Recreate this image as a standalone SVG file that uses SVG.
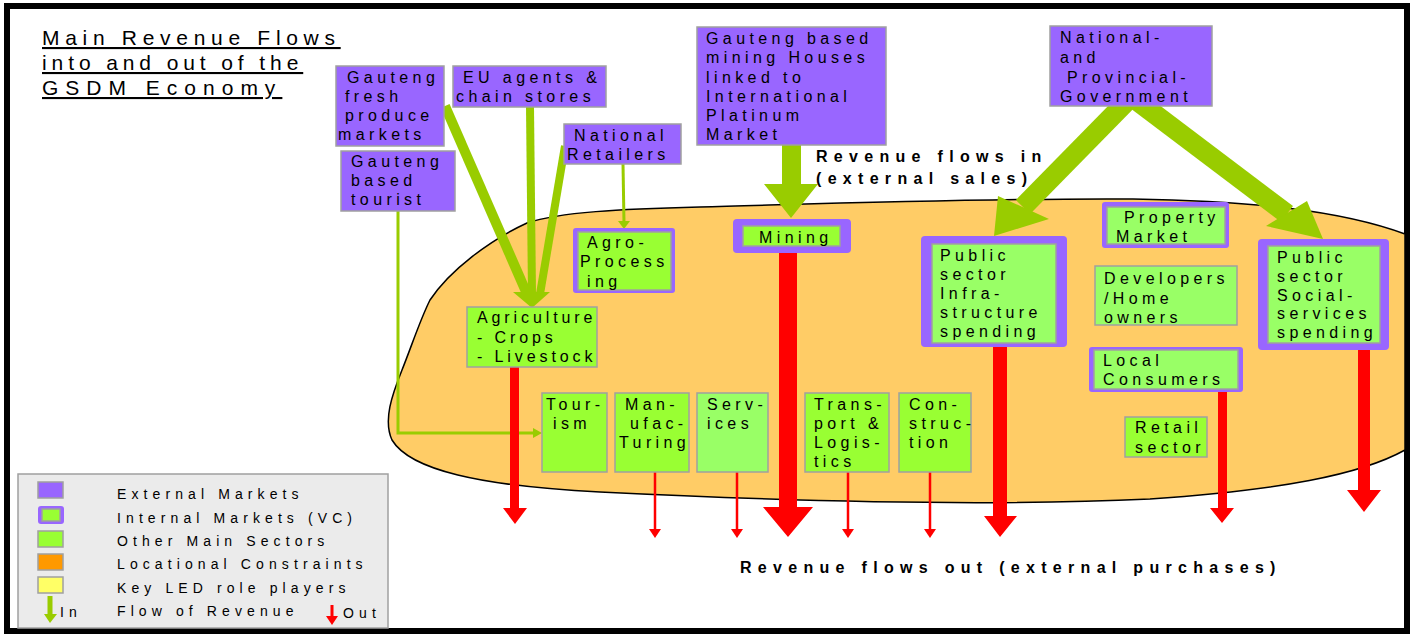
<svg xmlns="http://www.w3.org/2000/svg" width="1412" height="637" viewBox="0 0 1412 637">
<style>
text{font-family:"Liberation Sans",Arial,sans-serif;fill:#000}
.t{font-size:16px;letter-spacing:4.4px}
.lg{font-size:14px;letter-spacing:5.1px}
.b{font-size:16px;font-weight:bold;letter-spacing:6.3px}
.ti{font-size:21px;text-decoration:underline}
.ext{fill:#9966FF;stroke:#A0A0A0;stroke-width:1.5}
.g1{fill:#99FF33;stroke:#A0A0A0;stroke-width:1.5}
.g2{fill:#99FF66;stroke:#A0A0A0;stroke-width:1.5}
.intl{fill:#9966FF;stroke:none}
.red{fill:#FF0000}
.grn{fill:#99CC00}
.gl{stroke:#99CC00;fill:none}
.rl{stroke:#FF0000;stroke-width:2.5}
</style>
<rect x="0" y="0" width="1412" height="637" fill="#fff"/>
<rect x="7" y="6" width="1400" height="625" fill="#fff" stroke="#000" stroke-width="6"/>
<g id="title">
<text class="ti" x="42" y="45" style="letter-spacing:5.7px">Main Revenue Flows</text>
<text class="ti" x="42" y="70" style="letter-spacing:4.9px">into and out of the</text>
<text class="ti" x="42" y="95" style="letter-spacing:7px">GSDM Economy</text>
</g>
<path id="gsdm-area" d="M527,223 C560,212 620,209 700,207 C850,203 1000,198 1133,199 C1250,201 1340,210 1405,234 L1405,450 C1360,475 1280,490 1150,499 C1000,506 800,502 600,492 C480,486 410,470 392,440 C383,420 392,395 402,370 C412,345 420,320 430,300 C450,270 490,240 527,223 Z" fill="#FFCC66" stroke="#000" stroke-width="1.5"/>
<g id="connectors">
<line class="gl" x1="445" y1="106" x2="527" y2="294" stroke-width="10"/>
<line class="gl" x1="530" y1="107" x2="532" y2="294" stroke-width="8"/>
<line class="gl" x1="565" y1="146" x2="540" y2="294" stroke-width="8"/>
<polygon class="grn" points="513,292 550,292 532,308"/>
<line class="gl" x1="623" y1="164" x2="624" y2="223" stroke-width="3"/>
<polygon class="grn" points="618,221 630,221 624,229"/>
<polyline class="gl" points="398,211 398,433 535,433" stroke-width="3"/>
<polygon class="grn" points="533,428 533,438 542,433"/>
<path class="grn" d="M782,145 L801,145 L801,184 L818,184 L791,218 L764,184 L782,184 Z"/>
<line class="gl" x1="1128" y1="100" x2="1023" y2="207" stroke-width="20"/>
<polygon class="grn" points="998,196 1049,219 994,236"/>
<line class="gl" x1="1136" y1="100" x2="1287" y2="214" stroke-width="20"/>
<polygon class="grn" points="1307,201 1266,226 1323,239"/>
<path class="red" d="M510,367 L519,367 L519,508 L527,508 L515,524 L503,508 L510,508 Z"/>
<path class="red" d="M779,249 L797,249 L797,507 L813,507 L788,537 L763,507 L779,507 Z"/>
<path class="red" d="M993,347 L1007,347 L1007,516 L1017,516 L1000,537 L984,516 L993,516 Z"/>
<path class="red" d="M1218,392 L1227,392 L1227,508 L1234,508 L1222,523 L1210,508 L1218,508 Z"/>
<path class="red" d="M1358,350 L1370,350 L1370,490 L1381,490 L1364,512 L1347,490 L1358,490 Z"/>
<line class="rl" x1="655" y1="472" x2="655" y2="531"/>
<polygon class="red" points="649,529 661,529 655,538"/>
<line class="rl" x1="737" y1="472" x2="737" y2="531"/>
<polygon class="red" points="731,529 743,529 737,538"/>
<line class="rl" x1="848" y1="472" x2="848" y2="531"/>
<polygon class="red" points="842,529 854,529 848,538"/>
<line class="rl" x1="930" y1="472" x2="930" y2="531"/>
<polygon class="red" points="924,529 936,529 930,538"/>
</g>
<g id="fresh-produce">
<rect class="ext" x="336" y="66" width="108" height="80"/>
<text class="t"><tspan x="347" y="83">Gauteng</tspan><tspan x="345" y="102">fresh</tspan><tspan x="345" y="121">produce</tspan><tspan x="338" y="140">markets</tspan></text>
</g>
<g id="eu-agents">
<rect class="ext" x="453" y="66" width="153" height="41"/>
<text class="t"><tspan x="463" y="83">EU agents &amp;</tspan><tspan x="456" y="102">chain stores</tspan></text>
</g>
<g id="national-retailers">
<rect class="ext" x="564" y="124" width="117" height="40"/>
<text class="t"><tspan x="574" y="141">National</tspan><tspan x="567" y="160">Retailers</tspan></text>
</g>
<g id="gauteng-tourist">
<rect class="ext" x="341" y="151" width="114" height="60"/>
<text class="t"><tspan x="351" y="167">Gauteng</tspan><tspan x="351" y="186">based</tspan><tspan x="351" y="205">tourist</tspan></text>
</g>
<g id="mining-houses">
<rect class="ext" x="697" y="27" width="189" height="118"/>
<text class="t"><tspan x="706" y="44">Gauteng based</tspan><tspan x="706" y="63">mining Houses</tspan><tspan x="706" y="83">linked to</tspan><tspan x="706" y="102">International</tspan><tspan x="706" y="121">Platinum</tspan><tspan x="706" y="140">Market</tspan></text>
</g>
<g id="government">
<rect class="ext" x="1050" y="26" width="162" height="80"/>
<text class="t"><tspan x="1060" y="43">National-</tspan><tspan x="1060" y="63">and</tspan><tspan x="1067" y="83">Provincial-</tspan><tspan x="1060" y="102">Government</tspan></text>
</g>
<g id="agro-processing">
<rect class="intl" x="573" y="228" width="102" height="65" rx="3"/>
<rect class="g1" x="578" y="232" width="93" height="58"/>
<text class="t"><tspan x="587" y="248">Agro-</tspan><tspan x="580" y="267">Process</tspan><tspan x="587" y="287">ing</tspan></text>
</g>
<g id="mining">
<rect class="intl" x="733" y="219" width="118" height="34" rx="4"/>
<rect class="g1" x="743" y="226" width="97" height="20"/>
<text class="t" x="759" y="243">Mining</text>
</g>
<g id="public-infra">
<rect class="intl" x="921" y="236" width="146" height="111" rx="4"/>
<rect class="g2" x="932" y="244" width="124" height="99"/>
<text class="t"><tspan x="940" y="261">Public</tspan><tspan x="940" y="280">sector</tspan><tspan x="940" y="299">Infra-</tspan><tspan x="940" y="318">structure</tspan><tspan x="940" y="337">spending</tspan></text>
</g>
<g id="property-market">
<rect class="intl" x="1102" y="202" width="127" height="46" rx="3"/>
<rect class="g2" x="1107" y="207" width="118" height="37"/>
<text class="t"><tspan x="1124" y="223">Property</tspan><tspan x="1116" y="242">Market</tspan></text>
</g>
<g id="developers">
<rect class="g2" x="1095" y="266" width="142" height="59"/>
<text class="t"><tspan x="1104" y="284">Developers</tspan><tspan x="1104" y="304">/Home</tspan><tspan x="1104" y="323">owners</tspan></text>
</g>
<g id="local-consumers">
<rect class="intl" x="1089" y="347" width="154" height="45" rx="3"/>
<rect class="g2" x="1094" y="350" width="144" height="39"/>
<text class="t"><tspan x="1103" y="366">Local</tspan><tspan x="1103" y="385">Consumers</tspan></text>
</g>
<g id="retail-sector">
<rect class="g1" x="1125" y="417" width="82" height="40"/>
<text class="t"><tspan x="1135" y="433">Retail</tspan><tspan x="1135" y="453">sector</tspan></text>
</g>
<g id="public-social">
<rect class="intl" x="1258" y="239" width="131" height="111" rx="4"/>
<rect class="g2" x="1268" y="246" width="112" height="97"/>
<text class="t"><tspan x="1277" y="263">Public</tspan><tspan x="1277" y="282">sector</tspan><tspan x="1277" y="301">Social-</tspan><tspan x="1277" y="319">services</tspan><tspan x="1277" y="338">spending</tspan></text>
</g>
<g id="agriculture">
<rect class="g1" x="467" y="307" width="130" height="60"/>
<text class="t" style="letter-spacing:3.9px"><tspan x="477" y="323">Agriculture</tspan><tspan x="477" y="343">- Crops</tspan><tspan x="477" y="362">- Livestock</tspan></text>
</g>
<g id="tourism">
<rect class="g1" x="542" y="393" width="65" height="79"/>
<text class="t"><tspan x="546" y="410">Tour-</tspan><tspan x="553" y="429">ism</tspan></text>
</g>
<g id="manufacturing">
<rect class="g1" x="615" y="393" width="74" height="79"/>
<text class="t"><tspan x="625" y="410">Man-</tspan><tspan x="630" y="429">ufac-</tspan><tspan x="619" y="448">Turing</tspan></text>
</g>
<g id="services">
<rect class="g2" x="697" y="393" width="71" height="79"/>
<text class="t"><tspan x="707" y="410">Serv-</tspan><tspan x="707" y="429">ices</tspan></text>
</g>
<g id="transport">
<rect class="g1" x="805" y="393" width="84" height="79"/>
<text class="t"><tspan x="814" y="410">Trans-</tspan><tspan x="814" y="429">port &amp;</tspan><tspan x="814" y="448">Logis-</tspan><tspan x="814" y="467">tics</tspan></text>
</g>
<g id="construction">
<rect class="g1" x="899" y="393" width="72" height="79"/>
<text class="t"><tspan x="909" y="410">Con-</tspan><tspan x="909" y="429">struc-</tspan><tspan x="909" y="448">tion</tspan></text>
</g>
<g id="labels">
<text class="b"><tspan x="816" y="162">Revenue flows in</tspan><tspan x="816" y="184">(external sales)</tspan></text>
<text class="b" x="740" y="573">Revenue flows out (external purchases)</text>
</g>
<g id="legend">
<rect x="18" y="474" width="370" height="154" fill="#EBEBEB" stroke="#A0A0A0" stroke-width="1.5"/>
<rect class="ext" x="38" y="482" width="25" height="16"/>
<rect class="intl" x="38" y="506" width="26" height="18" rx="3"/>
<rect class="g1" x="42" y="509" width="18" height="12"/>
<rect class="g1" x="38" y="531" width="25" height="16"/>
<rect x="38" y="554" width="25" height="16" fill="#FF9900" stroke="#A0A0A0" stroke-width="1.5"/>
<rect x="38" y="577" width="25" height="16" fill="#FFFF66" stroke="#A0A0A0" stroke-width="1.5"/>
<rect class="grn" x="47.5" y="596" width="5" height="19"/>
<polygon class="grn" points="44,614 57,614 50,623"/>
<rect class="red" x="330.5" y="605" width="3" height="12"/>
<polygon class="red" points="326,616 338,616 332,625"/>
<text class="lg" x="60" y="617">In</text>
<text class="lg" x="343" y="618">Out</text>
<text class="lg" x="117" y="499">External Markets</text>
<text class="lg" x="117" y="523">Internal Markets (VC)</text>
<text class="lg" x="117" y="546">Other Main Sectors</text>
<text class="lg" x="117" y="569">Locational Constraints</text>
<text class="lg" x="117" y="593">Key LED role players</text>
<text class="lg" x="117" y="616">Flow of Revenue</text>
</g>
</svg>
